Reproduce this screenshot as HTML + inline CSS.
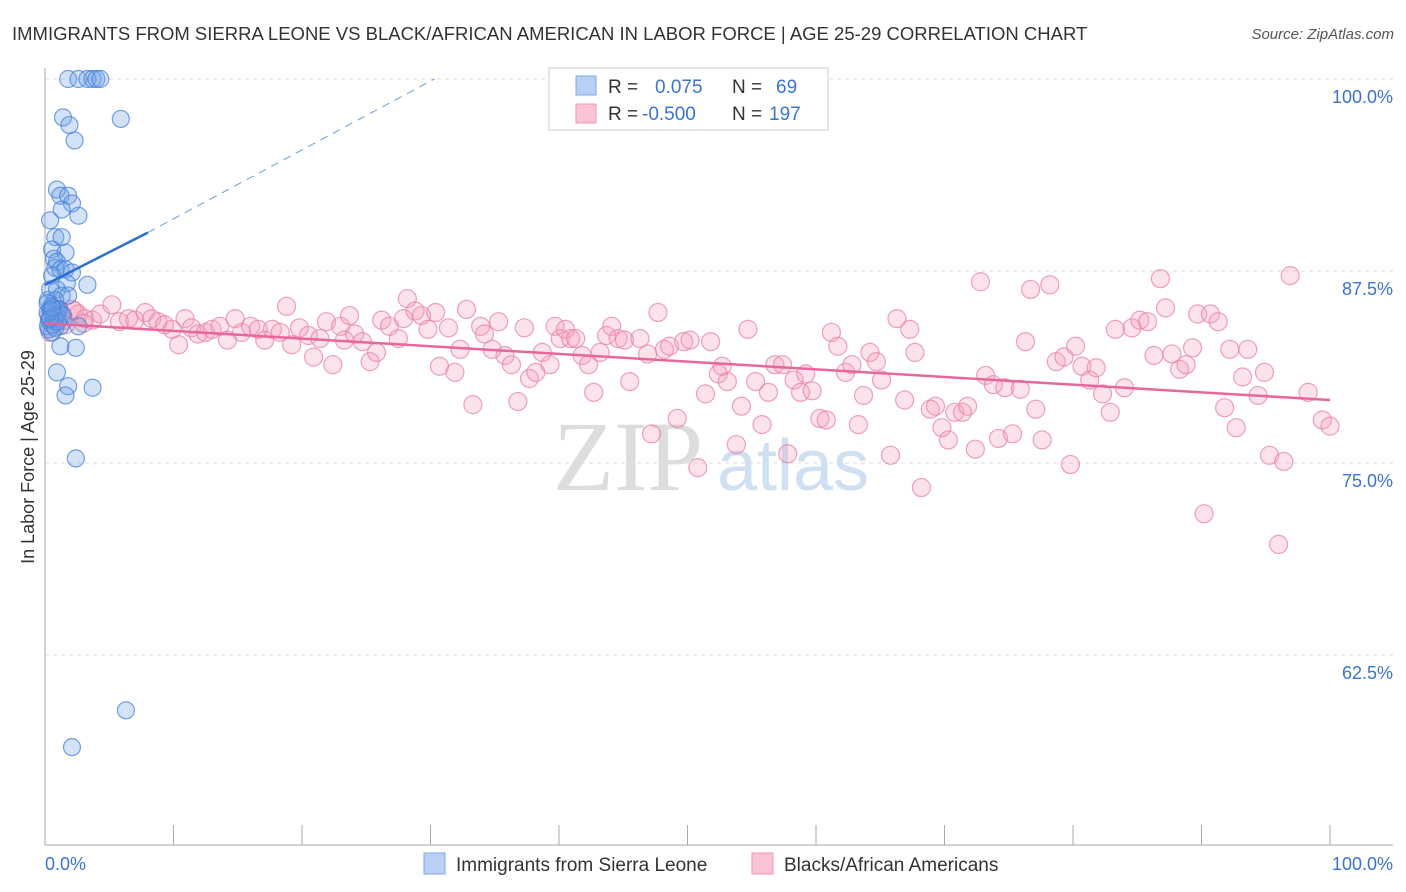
<!DOCTYPE html>
<html><head><meta charset="utf-8">
<style>
body{margin:0;background:#fff;font-family:"Liberation Sans",sans-serif;}
svg{display:block}
</style></head>
<body>
<svg id="chart" width="1406" height="892" viewBox="0 0 1406 892" xmlns="http://www.w3.org/2000/svg">
<text x="12" y="40" font-size="18.5" fill="#333">IMMIGRANTS FROM SIERRA LEONE VS BLACK/AFRICAN AMERICAN IN LABOR FORCE | AGE 25-29 CORRELATION CHART</text>
<text x="1394" y="39" font-size="15" fill="#555" font-style="italic" text-anchor="end">Source: ZipAtlas.com</text>
<g>
<text x="553" y="490" font-size="100" font-family="Liberation Serif,serif" fill="#ddd">ZIP</text>
<text x="717" y="490" font-size="72" fill="#cfe0f3">atlas</text>
</g>
<g id="grid"></g>
<g id="axes"></g>
<g id="marks"></g>
<text transform="translate(34,457) rotate(-90)" font-size="18" fill="#333" text-anchor="middle">In Labor Force | Age 25-29</text>
<g>
<rect x="549" y="68" width="279" height="62" fill="#fff" stroke="#ccc"/>
<rect x="576" y="76" width="20" height="19" fill="#b7d0f3" stroke="#7fa8e4"/>
<rect x="576" y="104" width="20" height="19" fill="#f9c3d5" stroke="#ec9ab8"/>
<text x="608" y="93" font-size="19" fill="#333">R = <tspan fill="#3b73d1" x="655">0.075</tspan><tspan x="732" fill="#333">N = </tspan><tspan fill="#3b73d1" x="776">69</tspan></text>
<text x="608" y="120" font-size="19" fill="#333">R = <tspan fill="#3b73d1" x="642">-0.500</tspan><tspan x="732" fill="#333">N = </tspan><tspan fill="#3b73d1" x="769">197</tspan></text>
</g>
<g>
<rect x="424" y="853" width="21" height="21" fill="#b7d0f3" stroke="#7fa8e4"/>
<text x="456" y="871" font-size="19" fill="#333">Immigrants from Sierra Leone</text>
<rect x="752" y="853" width="21" height="21" fill="#f9c3d5" stroke="#ec9ab8"/>
<text x="784" y="871" font-size="19" fill="#333">Blacks/African Americans</text>
</g>
</svg>
<script>
const yTicks=[100,87.5,75,62.5];
const yTickLabels=["100.0%","87.5%","75.0%","62.5%"];
const xTicks=[0,10,20,30,40,50,60,70,80,90,100];
const xEndLabels=["0.0%","100.0%"];
const blueX=[1.8,2.6,3.3,3.7,4.0,4.3,1.4,1.9,2.3,5.9,0.93,1.2,1.8,2.1,1.3,2.6,0.4,0.8,1.3,0.55,1.6,0.7,0.93,0.8,1.2,1.6,2.1,0.55,1.7,3.3,0.4,0.93,1.3,1.8,0.23,0.8,0.4,0.93,1.3,0.4,0.8,0.23,1.2,2.6,0.55,0.93,1.2,2.4,1.8,3.7,1.6,2.4,6.3,2.1,0.2,0.3,0.5,0.6,0.9,1.1,0.3,0.7,1.0,0.2,0.5,0.8,1.4,0.4,0.6];
const blueY=[100,100,100,100,100,100,97.5,97.0,96.0,97.4,92.8,92.4,92.4,91.9,91.5,91.1,90.8,89.7,89.7,88.9,88.7,88.3,88.1,87.7,87.6,87.6,87.4,87.2,86.7,86.6,86.3,86.3,85.9,85.9,85.6,85.6,85.0,85.0,84.7,84.4,84.2,83.9,83.9,83.9,83.5,80.9,82.6,82.5,80.0,79.9,79.4,75.3,58.9,56.5,84.8,84.3,85.2,84.0,84.6,85.0,83.7,84.5,84.2,85.4,84.9,83.8,84.6,84.4,85.1];
const pinkX=[0.4,0.8,1.2,1.6,2.1,2.6,3.1,3.7,4.3,5.2,5.8,6.5,7.0,7.8,8.3,8.8,9.3,9.9,10.4,10.9,11.4,11.9,12.5,13.0,13.6,14.2,14.8,15.3,16.0,16.6,17.1,17.7,18.3,18.8,19.2,19.8,20.5,20.9,21.4,21.9,22.4,23.0,23.3,23.7,24.1,24.7,25.3,25.8,26.2,26.8,27.5,27.9,28.2,28.8,29.3,29.8,30.4,30.7,31.4,31.9,32.3,32.8,33.3,33.9,34.2,34.8,35.3,35.8,36.3,36.8,37.3,37.7,38.2,38.7,39.3,39.7,40.1,40.5,40.9,41.3,41.8,42.3,42.7,43.2,43.7,44.1,44.6,45.1,45.5,46.3,46.9,47.2,47.7,48.2,48.6,49.2,49.7,50.2,50.8,51.4,51.8,52.4,52.7,53.1,53.8,54.2,54.7,55.3,55.8,56.3,56.8,57.4,57.8,58.3,58.8,59.2,59.7,60.3,60.8,61.2,61.7,62.3,62.8,63.3,63.7,64.2,64.7,65.1,65.8,66.3,66.9,67.3,67.7,68.2,68.9,69.3,69.8,70.3,70.8,71.4,71.8,72.4,72.8,73.2,73.8,74.2,74.7,75.3,75.9,76.3,76.7,77.1,77.6,78.2,78.7,79.3,79.8,80.2,80.7,81.3,81.8,82.3,82.9,83.3,84.0,84.6,85.2,85.8,86.3,86.8,87.2,87.7,88.3,88.8,89.3,89.7,90.2,90.7,91.3,91.8,92.2,92.7,93.2,93.6,94.4,94.9,95.3,96.0,96.4,96.9,98.3,99.4,100,0.3,1.0,1.5,2.3,3.0];
const pinkY=[83.5,84.4,84.8,84.0,85.0,84.7,84.4,84.3,84.7,85.3,84.2,84.4,84.3,84.8,84.4,84.2,84.0,83.7,82.7,84.4,83.8,83.4,83.5,83.7,83.9,83.0,84.4,83.5,83.9,83.7,83.0,83.7,83.5,85.2,82.7,83.8,83.3,81.9,83.1,84.2,81.4,83.9,83.0,84.6,83.4,82.9,81.6,82.2,84.3,83.9,83.1,84.4,85.7,84.9,84.6,83.7,84.8,81.3,83.8,80.9,82.4,85.0,78.8,83.9,83.4,82.4,84.2,82.0,81.4,79.0,83.8,80.5,80.9,82.2,81.4,83.9,83.1,83.7,83.1,83.1,82.0,81.4,79.6,82.2,83.3,83.9,83.1,83.0,80.3,83.1,82.1,76.9,84.8,82.4,82.6,77.9,82.9,83.0,74.7,79.5,82.9,80.8,81.3,80.3,76.2,78.7,83.7,80.3,77.5,79.6,81.4,81.4,75.6,80.4,79.6,80.8,79.7,77.9,77.8,83.5,82.6,80.9,81.4,77.5,79.4,82.2,81.6,80.4,75.5,84.4,79.1,83.7,82.2,73.4,78.5,78.7,77.3,76.5,78.3,78.3,78.7,75.9,86.8,80.7,80.1,76.6,79.9,76.9,79.8,82.9,86.3,78.5,76.5,86.6,81.6,81.9,74.9,82.6,81.3,80.4,81.2,79.5,78.3,83.7,79.9,83.8,84.3,84.2,82.0,87.0,85.1,82.1,81.1,81.4,82.5,84.7,71.7,84.7,84.2,78.6,82.4,77.3,80.6,82.4,79.4,80.9,75.5,69.7,75.1,87.2,79.6,77.8,77.4,84.6,85.0,84.3,84.9,84.1];
const blueTrend={x0:0,y0:86.6,x1:8.0,y1:90.0,xd:30.3,yd:100};
const pinkTrend={x0:0,y0:84.1,x1:100,y1:79.1};

const X0=45,X1=1330,Y100=79,PX_PER=15.36;
const sx=v=>X0+(X1-X0)*v/100;
const sy=v=>Y100+(100-v)*PX_PER;
const NS="http://www.w3.org/2000/svg";
function mk(tag,attrs,parent){const e=document.createElementNS(NS,tag);for(const k in attrs)e.setAttribute(k,attrs[k]);parent.appendChild(e);return e;}
const grid=document.getElementById('grid'),axes=document.getElementById('axes'),marks=document.getElementById('marks');
yTicks.forEach((t,i)=>{
  const l=mk('line',{x1:45,x2:1393,y1:sy(t),y2:sy(t),stroke:'#ddd','stroke-dasharray':'4,4'},grid);
  
  
  const tx=mk('text',{x:1393,y:sy(t)+24,'font-size':18,fill:'#3b73d1','text-anchor':'end'},axes);
  tx.textContent=yTickLabels[i];
  
  
});
const ax=mk('line',{x1:45,x2:1393,y1:845,y2:845,stroke:'#aaa'},axes);


const ay=mk('line',{x1:45,x2:45,y1:68,y2:845,stroke:'#aaa'},axes);


xTicks.forEach(t=>{
  const l=mk('line',{x1:sx(t),x2:sx(t),y1:825,y2:845,stroke:'#aaa'},axes);
  
  
});
const xl0=mk('text',{x:45,y:870,'font-size':18,fill:'#3b73d1'},axes);
xl0.textContent=xEndLabels[0];


const xl1=mk('text',{x:1393,y:870,'font-size':18,fill:'#3b73d1','text-anchor':'end'},axes);
xl1.textContent=xEndLabels[1];



pinkX.forEach((x,i)=>{
  const c=mk('circle',{cx:sx(x),cy:sy(pinkY[i]),r:9,fill:'rgba(244,160,190,0.3)',stroke:'rgba(232,130,168,0.75)','stroke-width':1.2},marks);
  
  
});
blueX.forEach((x,i)=>{
  const c=mk('circle',{cx:sx(x),cy:sy(blueY[i]),r:8.5,fill:'rgba(110,160,230,0.3)',stroke:'rgba(70,130,220,0.75)','stroke-width':1.2},marks);
  
  
});
const pt=mk('line',{x1:sx(pinkTrend.x0),y1:sy(pinkTrend.y0),x2:sx(pinkTrend.x1),y2:sy(pinkTrend.y1),stroke:'#e8679a','stroke-width':2.5},marks);


const bt=mk('line',{x1:sx(blueTrend.x0),y1:sy(blueTrend.y0),x2:sx(blueTrend.x1),y2:sy(blueTrend.y1),stroke:'#2a6fd6','stroke-width':2.5},marks);


const bd=mk('line',{x1:sx(blueTrend.x1),y1:sy(blueTrend.y1),x2:sx(blueTrend.xd),y2:sy(blueTrend.yd),stroke:'#6a9de0','stroke-width':1,'stroke-dasharray':'8,6'},marks);


</script>
</body></html>
